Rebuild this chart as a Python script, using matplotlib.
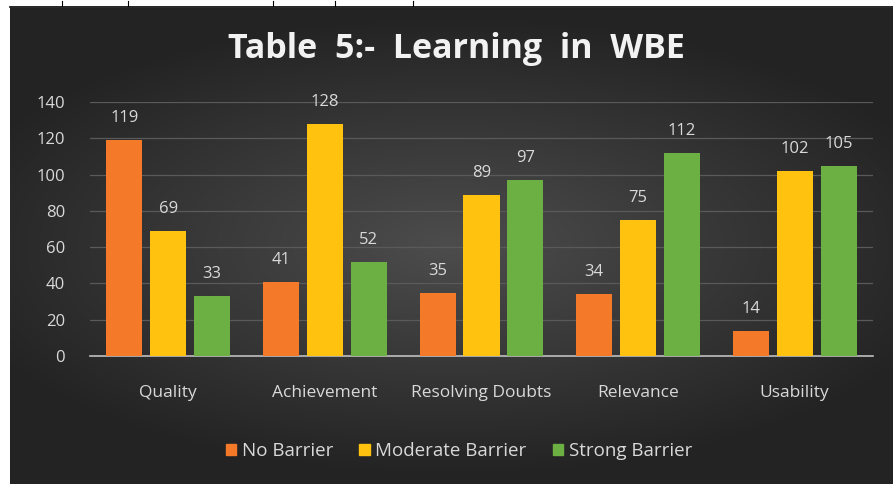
import numpy as np
import matplotlib
matplotlib.use("Agg")
import matplotlib.pyplot as plt
from matplotlib.patches import Patch

# data
categories = ["Quality", "Achievement", "Resolving Doubts", "Relevance", "Usability"]
series_names = ["No Barrier", "Moderate Barrier", "Strong Barrier"]
no_barrier = [119, 41, 35, 34, 14]
moderate_barrier = [69, 128, 89, 75, 102]
strong_barrier = [33, 52, 97, 112, 105]
yticks = [0, 20, 40, 60, 80, 100, 120, 140]

colors = ["#F47A2A", "#FFC20E", "#6CB043"]
txt = "#D9D9D9"

plt.rcParams['font.family'] = ['Open Sans', 'DejaVu Sans']

W, H = 893, 484
fig = plt.figure(figsize=(W / 100, H / 100), dpi=100)
fig.patch.set_facecolor("white")

# dark radial background
bg = fig.add_axes([10 / W, 0, 1 - 10 / W, (H - 8) / H])
yy, xx = np.mgrid[-1:1:300j, -1:1:500j]
r = np.sqrt((xx / 1.1) ** 2 + (yy / 0.9) ** 2)
g = np.clip(0.30 - 0.15 * r, 0.14, 0.30)
bg.imshow(np.dstack([g, g, g]), aspect="auto", extent=[0, 1, 0, 1])
bg.set_axis_off()

# bits of the table border above the chart
line = fig.add_axes([0, 0, 1, 1], facecolor="none")
line.set_xlim(0, W)
line.set_ylim(H, 0)
line.set_axis_off()
line.plot([10, W], [6.5, 6.5], color="black", lw=1.2)
for x in [62, 128, 273, 335, 413]:
    line.plot([x, x], [1, 6], color="black", lw=0.8)

ax = fig.add_axes([90 / W, (H - 356) / H, 783 / W, 254 / H], facecolor="none")
x = np.arange(len(categories))
width = 0.23
step = 0.28
for i, (vals, name) in enumerate(zip([no_barrier, moderate_barrier, strong_barrier], series_names)):
    bars = ax.bar(x + (i - 1) * step, vals, width, color=colors[i], zorder=3, label=name)
    for b, v in zip(bars, vals):
        ax.annotate(str(v), (b.get_x() + b.get_width() / 2, v), xytext=(0, 10),
                    textcoords="offset points", ha="center", va="bottom",
                    color=txt, fontsize=12)

ax.set_xlim(-0.5, len(categories) - 0.5)
ax.set_ylim(0, 140)
ax.set_yticks(yticks)
ax.set_xticks(x)
ax.set_xticklabels(categories)
ax.grid(axis="y", color="#5A5A5A", lw=0.9, zorder=0)
for s in ["top", "right", "left"]:
    ax.spines[s].set_visible(False)
ax.spines["bottom"].set_color("#BFBFBF")
ax.spines["bottom"].set_linewidth(1.2)
ax.tick_params(axis="both", length=0, colors=txt, labelsize=12.5)
ax.tick_params(axis="y", labelsize=12, pad=18)
ax.tick_params(axis="x", pad=21)

fig.text(456 / W, 1 - 49 / H, "Table  5:-  Learning  in  WBE", ha="center", va="center",
         color="#F2F2F2", fontsize=24.5, fontweight="bold")

handles = [Patch(color=c) for c in colors]
fig.legend(handles, series_names, loc="center", bbox_to_anchor=(459 / W, 1 - 451 / H),
           ncol=3, frameon=False, fontsize=13.5, labelcolor=txt, handlelength=0.55,
           handleheight=0.55, handletextpad=0.3, columnspacing=1.4)

fig.savefig("out.png", dpi=100)
